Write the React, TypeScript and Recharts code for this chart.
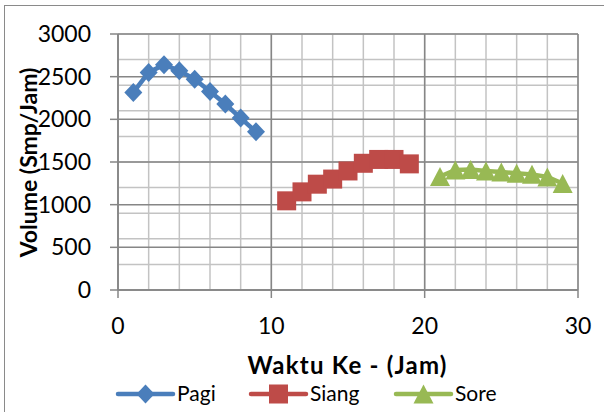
import React from 'react';
import { LineChart, Line, XAxis, YAxis, CartesianGrid } from 'recharts';

// Hourly traffic volume (smp/jam) for the three survey periods
const pagiJam = [1, 2, 3, 4, 5, 6, 7, 8, 9];
const pagiVolume = [2315, 2550, 2640, 2570, 2470, 2325, 2180, 2015, 1855];

const siangJam = [11, 12, 13, 14, 15, 16, 17, 18, 19];
const siangVolume = [1045, 1150, 1240, 1300, 1395, 1485, 1530, 1530, 1478];

const soreJam = [21, 22, 23, 24, 25, 26, 27, 28, 29];
const soreVolume = [1330, 1405, 1412, 1395, 1383, 1367, 1355, 1325, 1248];

const xTicks = [0, 10, 20, 30];
const yTicks = [0, 500, 1000, 1500, 2000, 2500, 3000];
const xMinor = [0, 2, 4, 6, 8, 10, 12, 14, 16, 18, 20, 22, 24, 26, 28, 30];
const yMinor = Array.from({ length: 31 }, (_, i) => i * 100);

const BLUE = '#4A7EBB';
const RED = '#BE4B48';
const GREEN = '#98B954';
const FONT = 'Lato, "Noto Sans", sans-serif';

const toRows = (xs: number[], ys: number[]) => xs.map((x, i) => ({ jam: x, volume: ys[i] }));
const pagiData = toRows(pagiJam, pagiVolume);
const siangData = toRows(siangJam, siangVolume);
const soreData = toRows(soreJam, soreVolume);

const Diamond = ({ cx, cy, color }: any) =>
  cx == null ? null : (
    <path d={`M${cx},${cy - 9.5}L${cx + 9},${cy}L${cx},${cy + 9.5}L${cx - 9},${cy}Z`} fill={color} />
  );
const Square = ({ cx, cy, color }: any) =>
  cx == null ? null : <rect x={cx - 9.5} y={cy - 9.5} width={19} height={19} fill={color} />;
const Triangle = ({ cx, cy, color }: any) =>
  cx == null ? null : (
    <path d={`M${cx},${cy - 9.5}L${cx + 10},${cy + 9.5}L${cx - 10},${cy + 9.5}Z`} fill={color} />
  );

const legendItems = [
  { name: 'Pagi', color: BLUE, Marker: Diamond, x: 118 },
  { name: 'Siang', color: RED, Marker: Square, x: 251 },
  { name: 'Sore', color: GREEN, Marker: Triangle, x: 396 },
];

export default function App() {
  return (
    <div style={{ position: 'absolute', left: 0, top: 0, width: 604, height: 412, background: '#fff', overflow: 'hidden' }}>
      <div
        style={{
          position: 'absolute',
          left: 4,
          top: 5,
          width: 620,
          height: 420,
          borderLeft: '1.5px solid #8a8a8a',
          borderTop: '1.5px solid #8a8a8a',
        }}
      />
      <LineChart
        width={604}
        height={412}
        margin={{ top: 34, right: 26, bottom: 0, left: 0 }}
        style={{ position: 'absolute', left: 0, top: 0, fontFamily: FONT }}
      >
        <CartesianGrid stroke="#c3c3c3" strokeWidth={1.5} horizontalValues={yMinor} verticalValues={xMinor} />
        <CartesianGrid stroke="#868686" strokeWidth={1.5} horizontalValues={yTicks} verticalValues={xTicks} />
        <XAxis
          type="number"
          dataKey="jam"
          domain={[0, 30]}
          ticks={xTicks}
          height={122}
          tickSize={8}
          tickMargin={20}
          axisLine={{ stroke: '#868686', strokeWidth: 1.5 }}
          tickLine={{ stroke: '#868686', strokeWidth: 1.5 }}
          tick={{ fill: '#000', fontSize: 23, fontFamily: FONT }}
          label={{
            content: () => (
              <text x={347.5} y={374} textAnchor="middle" fontFamily={FONT} fontWeight={700} fontSize={24} letterSpacing={1.2} fill="#000">
                Waktu Ke - (Jam)
              </text>
            ),
          }}
        />
        <YAxis
          type="number"
          domain={[0, 3000]}
          ticks={yTicks}
          width={118}
          tickSize={8}
          tickMargin={19}
          axisLine={{ stroke: '#868686', strokeWidth: 1.5 }}
          tickLine={{ stroke: '#868686', strokeWidth: 1.5 }}
          tick={{ fill: '#000', fontSize: 23, fontFamily: FONT }}
          label={{
            content: () => (
              <text
                x={28}
                y={162.5}
                transform="rotate(-90 28 162.5)"
                textAnchor="middle"
                dominantBaseline="central"
                fontFamily={FONT}
                fontWeight={700}
                fontSize={23}
                fill="#000"
              >
                Volume (Smp/Jam)
              </text>
            ),
          }}
        />
        <Line
          data={pagiData}
          dataKey="volume"
          name="Pagi"
          stroke={BLUE}
          strokeWidth={4.5}
          dot={(p: any) => <Diamond key={`p${p.index}`} cx={p.cx} cy={p.cy} color={BLUE} />}
          activeDot={false}
          isAnimationActive={false}
        />
        <Line
          data={siangData}
          dataKey="volume"
          name="Siang"
          stroke={RED}
          strokeWidth={4.5}
          dot={(p: any) => <Square key={`s${p.index}`} cx={p.cx} cy={p.cy} color={RED} />}
          activeDot={false}
          isAnimationActive={false}
        />
        <Line
          data={soreData}
          dataKey="volume"
          name="Sore"
          stroke={GREEN}
          strokeWidth={4.5}
          dot={(p: any) => <Triangle key={`r${p.index}`} cx={p.cx} cy={p.cy} color={GREEN} />}
          activeDot={false}
          isAnimationActive={false}
        />
      </LineChart>
      <svg width={604} height={412} style={{ position: 'absolute', left: 0, top: 0, pointerEvents: 'none' }}>
        {legendItems.map(({ name, color, Marker, x }) => (
          <g key={name}>
            <line x1={x} x2={x + 55} y1={394} y2={394} stroke={color} strokeWidth={4.5} strokeLinecap="round" />
            <Marker cx={x + 27.5} cy={394} color={color} />
            <text x={x + 59} y={401} fontFamily={FONT} fontSize={21} fill="#000">
              {name}
            </text>
          </g>
        ))}
      </svg>
    </div>
  );
}
